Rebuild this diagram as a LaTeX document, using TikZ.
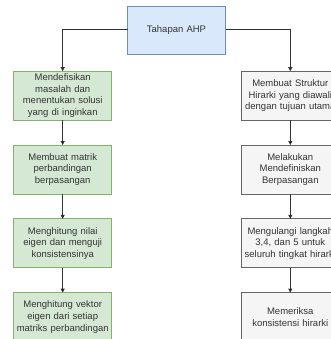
\documentclass[tikz,border=0pt]{standalone}
\usepackage{fontspec}
\setmainfont{Liberation Sans}
\usetikzlibrary{matrix,arrows.meta}

\definecolor{blueFill}{HTML}{DAE8FC}
\definecolor{blueLine}{HTML}{6C8EBF}
\definecolor{greenFill}{HTML}{D5E8D4}
\definecolor{greenLine}{HTML}{82B366}
\definecolor{grayFill}{HTML}{F5F5F5}
\definecolor{grayLine}{HTML}{666666}
\definecolor{inkGray}{HTML}{333333}

\tikzset{
  ahpbox/.style={draw, rectangle, line width=0.8pt, minimum width=98pt,
    minimum height=49pt, text width=94pt, inner sep=2pt, align=center,
    text=inkGray, font=\fontsize{9.5}{11.6}\selectfont},
  topbox/.style={ahpbox, minimum height=48pt, fill=blueFill, draw=blueLine},
  leftbox/.style={ahpbox, fill=greenFill, draw=greenLine},
  rightbox/.style={ahpbox, fill=grayFill, draw=grayLine}
}

\begin{document}
\begin{tikzpicture}[>={Triangle[length=4pt,width=4pt]}]
\useasboundingbox (0,0) rectangle (330pt,-339pt);
\matrix(a) at (176.5pt,-173.75pt) [matrix of nodes,
inner sep=0pt, outer sep=0pt,
row sep=24pt, column sep=15pt,
nodes={anchor=center}]
{
& |[topbox]| Tahapan AHP & \\[-7.5pt]
|[leftbox]| {Mendefisikan\\masalah dan\\menentukan solusi\\yang di inginkan} & &
|[rightbox]| {Membuat Struktur\\Hirarki yang diawali\\dengan tujuan utama} \\
|[leftbox]| {Membuat matrik\\perbandingan\\berpasangan} & &
|[rightbox]| {Melakukan\\Mendefiniskan\\Berpasangan} \\
|[leftbox]| {Menghitung nilai\\eigen dan menguji\\konsistensinya} & &
|[rightbox]| {Mengulangi langkah\\3,4, dan 5 untuk\\seluruh tingkat hirarki} \\
|[leftbox]| {Menghitung vektor\\eigen dari setiap\\matriks perbandingan} & &
|[rightbox]| {Memeriksa\\konsistensi hirarki} \\};
\draw[->,line width=0.8pt,inkGray](a-1-2.west) -| (a-2-1.north);
\draw[->,line width=0.8pt,inkGray](a-1-2.east) -| (a-2-3.north);
\path[->,line width=0.8pt,draw=inkGray](a-2-1) edge (a-3-1);
\path[->,line width=0.8pt,draw=inkGray](a-3-1) edge (a-4-1);
\path[->,line width=0.8pt,draw=inkGray](a-4-1) edge (a-5-1);
\path[->,line width=0.8pt,draw=inkGray](a-2-3) edge (a-3-3);
\path[->,line width=0.8pt,draw=inkGray](a-3-3) edge (a-4-3);
\path[->,line width=0.8pt,draw=inkGray](a-4-3) edge (a-5-3);
\end{tikzpicture}
\end{document}
